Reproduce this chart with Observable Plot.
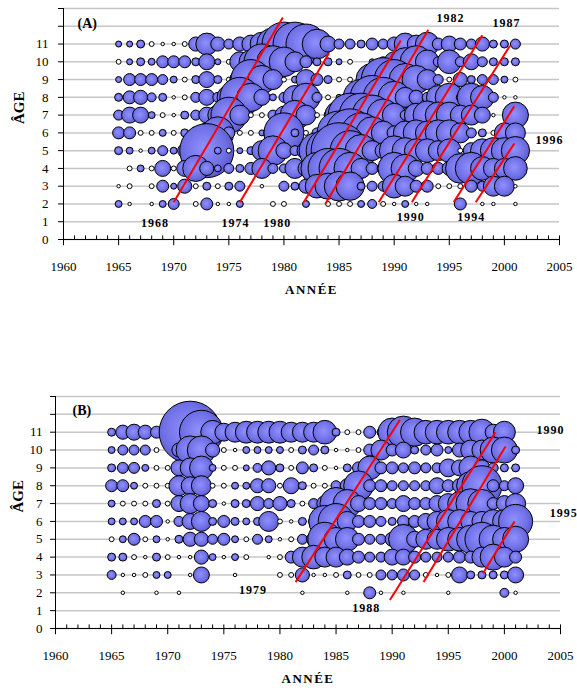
<!DOCTYPE html>
<html><head><meta charset="utf-8">
<script src="https://cdn.jsdelivr.net/npm/d3@7"></script>
<script src="https://cdn.jsdelivr.net/npm/@observablehq/plot@0.6"></script>
<style>
body{margin:0;background:#fff;}
#wrap{width:577px;height:690px;overflow:hidden;background:#fff;}
#wrap svg{display:block;}
</style></head><body><div id="wrap"></div>
<script>
// ---------- categories ----------
const years = [1965,1966,1967,1968,1969,1970,1971,1972,1973,1974,1975,1976,1977,1978,1979,1980,1981,1982,1983,1984,1985,1986,1987,1988,1989,1990,1991,1992,1993,1994,1995,1996,1997,1998,1999,2000,2001];
const ages = [11,10,9,8,7,6,5,4,3,2];
const gridAges = [0,1,2,3,4,5,6,7,8,9,10,11,12,13];
const yLabels = ["0","1","2","3","4","5","6","7","8","9","10","11","",""];
const majorYears = [1960,1965,1970,1975,1980,1985,1990,1995,2000,2005];
const minorYears = [1961,1962,1963,1964,1966,1967,1968,1969,1971,1972,1973,1974,1976,1977,1978,1979,1981,1982,1983,1984,1986,1987,1988,1989,1991,1992,1993,1994,1996,1997,1998,1999,2001,2002,2003,2004];

// ---------- panel A values (negative = open circle), 1965..2001 ----------
const a11 = [0.9,0.9,1.6,-0.6,-0.3,-0.3,-0.6,5,12,5, 2.5,5,8,14,26,48,48,40,22,6.4, 2.5,2.5,1.6,3.6,2.5,5,12,8,14,3.6, 6.4,3.6,2.5,5,1.6,1.6,2.5];
const a10 = [-0.6,0.9,1.6,1.2,3.6,3.6,3.6,1.6,6.4,0.9, -0.6,10,14,32,26,22,10,3.6,1.6,1.6, 0.9,-0.6,0,0.9,2.5,10,20,26,14,2.5, 14,2.5,6.4,2.5,1.6,1.6,1.6];
const a9  = [0.9,3.6,3.6,3.6,2.5,1.2,-0.6,1.6,6.4,1.6, -0.6,10,40,20,10,-0.6,1.2,10,3.6,1.6, -0.6,-0.6,-0.6,26,48,40,26,20,10,2.5, -0.6,5,1.6,2.5,2.5,1.2,-0.6];
const a8  = [1.6,4.2,5,2.0,1.6,-0.3,-0.6,2.5,6.4,2.5, 14,40,20,6.4,1.2,2.5,14,20,2.5,-0.6, 0.9,3.6,32,48,40,26,10,5,2.5,14, 20,1.6,20,14,2.5,-0.3,-0.3];
const a7  = [2.5,6.4,6.4,1.2,-0.6,-0.3,1.6,2.5,6.4,10, 32,10,-0.6,-0.6,2.5,8,22,10,-0.6,1.6, 20,48,48,40,26,14,2.5,14,20,17, 17,10,10,6.4,-0.3,-0.3,17];
const a6  = [3.6,3.6,-0.6,-0.6,1.2,-0.6,1.6,3.6,10,26, 3.6,-0.6,-0.6,0.9,8,40,1.6,-0.6,2.5,10, 48,58,40,26,14,5,14,17,14,17, 17,10,2.5,1.6,-0.6,10,10];
const a5  = [1.6,1.2,-0.3,1.2,2.5,1.2,5,10,73,1.2, -0.6,0.9,1.6,10,22,6.4,2.5,8,32,48, 78,40,26,10,6.4,22,17,14,14,10, 14,-0.6,6.4,14,17,17,20];
const a4  = [0,-0.6,1.2,-0.6,6.4,-0.6,6.4,17,5,1.2, 2.5,1.6,3.6,10,2.5,2.0,10,6.4,26,40, 40,26,10,3.6,3.6,26,20,6.4,3.6,3.6, 5,22,26,14,10,10,14];
const a3  = [-0.3,-0.6,0,-0.6,3.6,0.9,5,-0.6,1.6,-0.6, 1.6,2.5,0,-0.3,0,2.5,1.6,5,14,17, 22,20,1.6,2.5,2.5,14,10,3.6,3.6,-0.6, -0.6,-0.6,3.6,2.5,10,10,-0.3];
const a2  = [1.2,-0.3,0,-0.3,1.2,3,0,-0.6,3.6,-0.3, -0.3,1.2,0,0,-0.6,-0.6,0,1.2,0,-0.6, -0.6,-0.6,1.2,2.0,-0.6,-0.3,1.2,-0.3,-0.3,0, 0,3.6,0,-0.3,-0.3,0,-0.3];

// ---------- panel B values ----------
const b11 = [1.6,5,6.4,5,3.6,2.5,10,96,48,14, 8,10,12,12,12,12,10,10,10,14, 1.6,-0.6,-0.6,3.6,1.6,20,26,20,14,14, 14,14,14,17,6.4,12,0];
const b10 = [1.2,2.5,2.5,2.5,-0.6,0,5,20,20,5, -0.6,-0.3,1.2,1.2,1.2,1.2,-0.6,1.6,2.5,1.6, -0.3,-0.3,-0.6,3.6,10,3.6,6.4,1.6,2.5,3.6, 1.2,5,10,10,17,17,1.6];
const b9  = [1.6,3,3,1.2,-0.6,-0.6,6.4,10,14,1.2, -0.6,-0.6,0.9,2.0,5,1.6,-0.6,3.6,1.6,-0.6, -0.3,1.6,3.6,14,3.6,3.6,2.5,3.6,2.5,2.5, 8,6.4,14,6.4,2.5,1.6,1.6];
const b8  = [3.6,3.6,1.2,-0.6,-0.6,-0.6,10,8,10,-0.6, -0.6,1.2,1.2,5,5,-0.6,6.4,1.6,-0.6,-0.6, 2.5,5,22,3.6,3.6,2.5,2.5,2.5,2.5,6.4, 3.6,5,20,40,3.6,2.5,6.4];
const b7  = [1.2,-0.6,-0.6,-0.6,1.6,-0.6,6.4,10,6.4,1.6, -0.3,1.6,1.6,5,2.5,5,1.6,-0.6,2.5,6.4, 26,20,6.4,3.6,3.6,2.5,6.4,3.6,3.6,6.4, 10,14,22,20,3.6,6.4,10];
const b6  = [1.2,1.2,1.2,3.6,3.6,-0.3,2.5,6.4,10,1.6, 3.6,1.6,1.2,1.6,10,-0.6,-0.3,1.6,2.5,26, 32,10,3.6,3.6,2.5,1.6,3.6,3.6,6.4,10, 14,14,10,10,14,14,29];
const b5  = [-0.6,1.2,3.6,-0.6,1.2,-0.3,1.6,5,5,2.5, 3.6,1.2,-0.6,2.5,1.2,-0.3,-0.6,2.5,5,29, 14,14,3.6,2.5,2.5,5,22,6.4,10,10, 14,14,20,29,20,14,17];
const b4  = [1.6,1.6,-0.6,-0.3,1.6,-0.6,-0.3,-0.3,5,1.2, -0.3,1.2,-0.6,0,-0.3,-0.6,3.6,10,14,10, 10,6.4,3.6,2.5,2.5,6.4,6.4,3.6,2.5,2.5, 2.5,3.6,3.6,10,17,10,3.6];
const b3  = [2.0,-0.3,-0.3,-0.6,1.2,1.2,0,-0.3,6.4,0, 0,-0.3,0,0,0,-0.6,-0.6,5,-0.3,-0.3, -0.6,1.6,-0.6,-0.6,2.5,2.5,3.6,2.5,-0.6,-0.3, -0.6,6.4,1.6,1.6,1.6,1.6,6.4];
const b2  = [0,-0.3,0,0,-0.3,0,-0.3,0,0,0, 0,0,0,0,0,0,0,-0.3,0,0, 0,-0.3,0,3.6,-0.3,0,-0.3,0,0,0, -0.3,0,0,0,0,2.0,-0.3];

// ---------- cohort lines and labels (year, age) ----------
const cohortLinesA = [
  {x1:1970.0, y1:2.1, x2:1979.9, y2:12.5},
  {x1:1976.0, y1:2.1, x2:1984.1, y2:10.5},
  {x1:1981.8, y1:2.1, x2:1990.6, y2:11.2},
  {x1:1983.75,y1:2.0, x2:1993.1, y2:11.8},
  {x1:1988.6, y1:2.1, x2:1998.0, y2:11.5},
  {x1:1991.6, y1:2.1, x2:2000.5, y2:10.9},
  {x1:1995.4, y1:2.1, x2:2000.9, y2:7.5},
  {x1:1997.4, y1:2.1, x2:2000.9, y2:5.4}
];
const cohortLabelsA = [
  {x:1968.3, y:0.9, t:"1968"}, {x:1975.6, y:0.9, t:"1974"}, {x:1979.4, y:0.9, t:"1980"},
  {x:1991.5, y:1.24, t:"1990"}, {x:1997.0, y:1.24, t:"1994"},
  {x:1995.1, y:12.44, t:"1982"}, {x:2000.2, y:12.2, t:"1987"}, {x:2004.1, y:5.57, t:"1996"}
];
const cohortLinesB = [
  {x1:1981.4, y1:2.6, x2:1990.7, y2:11.7},
  {x1:1989.8, y1:1.6, x2:1999.2, y2:11.0},
  {x1:1992.8, y1:2.6, x2:2000.1, y2:10.2},
  {x1:1998.1, y1:3.1, x2:2000.9, y2:6.0}
];
const cohortLabelsB = [
  {x:1977.6, y:2.13, t:"1979"}, {x:1987.7, y:1.12, t:"1988"},
  {x:2004.1, y:11.1, t:"1990"}, {x:2005.3, y:6.46, t:"1995"}
];

const font = "'Liberation Serif','Times New Roman',Times,serif";

function tidy(rows) {
  const out = [];
  ages.forEach((a, i) => rows[i].forEach((v, j) => { if (v !== 0) out.push({year: years[j], age: a, value: v}); }));
  return out;
}

function panel(cfg) {
  const data = tidy(cfg.rows);
  const svg = Plot.plot({
    width: 577, height: cfg.height,
    marginLeft: cfg.ml, marginRight: cfg.mr, marginTop: cfg.mt, marginBottom: cfg.mb,
    style: {fontFamily: font, fontSize: "13px", color: "#000", background: "transparent", overflow: "visible"},
    x: {domain: [1960, 2005], label: null},
    y: {domain: [0, 13], label: null},
    r: {type: "sqrt", domain: [0, 250], range: [0, 50]},
    color: {type: "identity"},
    marks: [
      Plot.ruleY(gridAges, {stroke: "#c6c6c6", strokeWidth: 1.5}),
      Plot.axisX({ticks: majorYears, tickSize: 0, tickPadding: 22.5, tickFormat: d => String(d), label: null, fontSize: 13}),
      Plot.axisY({ticks: gridAges, tickSize: 5, tickPadding: cfg.ytp, tickFormat: d => yLabels[gridAges.indexOf(d)], label: null, fontSize: 13}),
      Plot.ruleX(minorYears, {y1: 0, y2: 0.2, stroke: "#000"}),
      Plot.ruleX(majorYears, {y1: -0.35, y2: 0.2, stroke: "#000"}),
      Plot.ruleY([0], {stroke: "#000"}),
      Plot.ruleX([1960], {y1: 0, y2: 13, stroke: "#000"}),
      Plot.dot(data, {x: "year", y: "age", r: d => Math.abs(d.value),
        fill: d => d.value > 0 ? "url(#bub)" : "#ffffff", stroke: "#000", strokeWidth: 1, sort: null}),
      Plot.link(cfg.lines, {x1: "x1", y1: "y1", x2: "x2", y2: "y2", stroke: "#ff0000", strokeWidth: 2}),
      Plot.text(cfg.labels, {x: "x", y: "y", text: "t", fontWeight: "bold", fontSize: 12}),
      Plot.text([cfg.title], {frameAnchor: "top-left", dx: cfg.tdx, dy: cfg.tdy, textAnchor: "start", fontWeight: "bold", fontSize: 14}),
      Plot.text(["ÂGE"], {frameAnchor: "left", dx: cfg.gdx, rotate: -90, fontWeight: "bold", fontSize: 15}),
      Plot.text(["ANNÉE"], {frameAnchor: "bottom", dy: 54, fontWeight: "bold", fontSize: 13})
    ]
  });
  svg.insertAdjacentHTML("afterbegin",
    '<defs><radialGradient id="bub" cx="0.45" cy="0.45" r="0.6">' +
    '<stop offset="0" stop-color="#9090ff"/><stop offset="0.65" stop-color="#7070e6"/>' +
    '<stop offset="1" stop-color="#5454c2"/></radialGradient></defs>');
  svg.querySelectorAll('g[aria-label="text"] text').forEach(t => {
    if (t.textContent === "ANNÉE") t.setAttribute("letter-spacing", "1.5px");
    else if (/^\d{4}$/.test(t.textContent)) t.setAttribute("letter-spacing", "1px");
  });
  return svg;
}

const wrap = document.getElementById("wrap");
wrap.appendChild(panel({
  rows: [a11,a10,a9,a8,a7,a6,a5,a4,a3,a2], height: 310,
  ml: 63, mr: 18, mt: 8, mb: 71, ytp: 10,
  lines: cohortLinesA, labels: cohortLabelsA,
  title: "(A)", tdx: 14, tdy: 10, gdx: -44
}));
wrap.appendChild(panel({
  rows: [b11,b10,b9,b8,b7,b6,b5,b4,b3,b2], height: 380,
  ml: 55, mr: 17, mt: 86, mb: 62, ytp: 8,
  lines: cohortLinesB, labels: cohortLabelsB,
  title: "(B)", tdx: 17, tdy: 9, gdx: -37
}));
</script></body></html>
